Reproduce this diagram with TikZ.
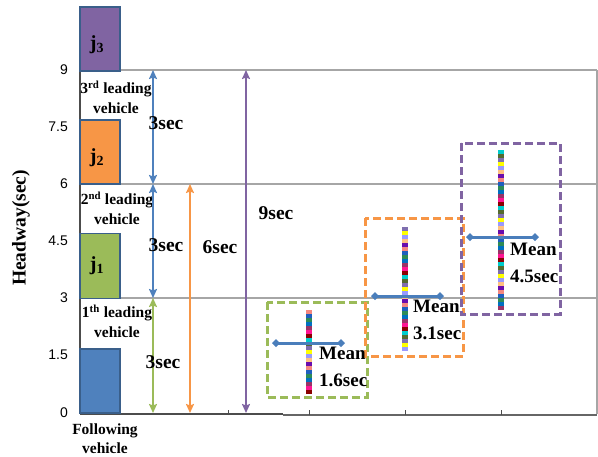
\documentclass[tikz,border=0pt]{standalone}
\usepackage{fontspec}
\setmainfont{Liberation Serif}
\newfontfamily\tickfont{Liberation Sans}
\usetikzlibrary{arrows.meta}
\definecolor{jpurple}{HTML}{8064A2}
\definecolor{jorange}{HTML}{F79646}
\definecolor{jgreen}{HTML}{9BBB59}
\definecolor{jblue}{HTML}{4F81BD}
\definecolor{jborder}{HTML}{3A5F8A}
\definecolor{meanblue}{HTML}{4A7EBB}
\definecolor{gridgray}{HTML}{A6A6A6}
\definecolor{sc0}{HTML}{F4877F}
\definecolor{sc1}{HTML}{0070C0}
\definecolor{sc2}{HTML}{8B0000}
\definecolor{sc3}{HTML}{7F6FAF}
\definecolor{sc4}{HTML}{FFC080}
\definecolor{sc5}{HTML}{1F5FBF}
\definecolor{sc6}{HTML}{993366}
\definecolor{sc7}{HTML}{00CCCC}
\definecolor{sc8}{HTML}{FFFF00}
\definecolor{sc9}{HTML}{6A0DAD}
\definecolor{sc10}{HTML}{2E8B57}
\definecolor{sc11}{HTML}{FF1493}
\definecolor{sc12}{HTML}{556B2F}
\definecolor{sc13}{HTML}{9999FF}
\newcommand\scatbar[4]{%
  \pgfmathtruncatemacro\nseg{(#3-#2)/4}%
  \foreach \k in {0,...,\nseg}{%
    \pgfmathtruncatemacro\m{mod(\k*5+#4,14)}%
    \pgfmathsetmacro\yy{#2+4*\k}%
    \fill[fill=sc\m] (#1-3,\yy) rectangle (#1+3,\yy+4);
  }%
}
\tikzset{
  gridline/.style={draw=gridgray, line width=1.3pt},
  vehbox/.style={draw=jborder, line width=1.6pt, minimum width=40pt, inner sep=0pt},
  vlabel/.style={font=\bfseries\fontsize{15.5}{20}\selectfont, align=center, inner sep=0pt},
  jlabel/.style={font=\bfseries\fontsize{20}{22}\selectfont, inner sep=0pt},
  ticklab/.style={font=\tickfont\fontsize{14}{16}\selectfont, anchor=east, inner sep=0pt},
  seclab/.style={font=\bfseries\fontsize{19.5}{22}\selectfont, inner sep=0pt},
  meanlab/.style={font=\bfseries\fontsize{19}{27}\selectfont, align=left, anchor=north west, inner sep=0pt},
  harrow/.style={line width=2.6pt, {Stealth[length=9pt,width=8pt,inset=1.5pt]}-{Stealth[length=9pt,width=8pt,inset=1.5pt]}},
  dbox/.style={line width=3pt, dash pattern=on 8pt off 4pt},
  meanbar/.style={draw=meanblue, line width=3pt, {Diamond[length=8pt,width=8pt]}-{Diamond[length=8pt,width=8pt]}},
}
\begin{document}
\begin{tikzpicture}[x=1pt,y=-1pt]
\useasboundingbox (0,0) rectangle (598,456);
% grid lines
\draw[gridline] (80,70) -- (597,70);
\draw[gridline] (80,184) -- (597,184);
\draw[gridline] (80,298) -- (597,298);
% frame
\draw[draw=gridgray, line width=1.6pt] (597,70) -- (597,414);
\draw[draw=gray!60!black, line width=1.3pt] (80,70) -- (80,414);
\draw[draw=gray!60!black, line width=1.3pt] (80,414) -- (283,414);
\draw[draw=gray!80!black, line width=1.3pt] (283,415) -- (597,415);
\foreach \tx in {228,309,405,501}{\draw[gray!60!black, line width=0.8pt] (\tx,415) -- (\tx,410);}
% tick labels
\node[ticklab] (t0) at (68,413) {0};
\node[ticklab] (t15) at (68,355) {1.5};
\node[ticklab] (t3) at (68,298) {3};
\node[ticklab] (t45) at (68,241) {4.5};
\node[ticklab] (t6) at (68,184) {6};
\node[ticklab] (t75) at (68,127) {7.5};
\node[ticklab] (t9) at (68,70) {9};
% axis title
\node[font=\bfseries\fontsize{19.5}{22}\selectfont, rotate=90, inner sep=0pt] (ytitle) at (21,228) {Headway(sec)};
% vehicle boxes
\node[vehbox, fill=jpurple, minimum height=64pt] (j3) at (100,39) {};
\node[vehbox, fill=jorange, minimum height=64pt] (j2) at (100,152) {};
\node[vehbox, fill=jgreen, minimum height=65pt] (j1) at (100,266) {};
\node[vehbox, fill=jblue, minimum height=64pt] (fv) at (100,381) {};
\node[jlabel] (lj3) at (97,45) {j\textsubscript{3}};
\node[jlabel] (lj2) at (97,158) {j\textsubscript{2}};
\node[jlabel] (lj1) at (97,266) {j\textsubscript{1}};
% vehicle labels
\node[vlabel] (v3) at (116,97) {3\textsuperscript{rd} leading\\vehicle};
\node[vlabel] (v2) at (117,208) {2\textsuperscript{nd} leading\\vehicle};
\node[vlabel] (v1) at (117,321) {1\textsuperscript{th} leading\\vehicle};
\node[vlabel, font=\bfseries\fontsize{15.5}{19}\selectfont] (v0) at (105,439) {Following\\vehicle};
% arrow end points
\coordinate (b9) at (153,70);
\coordinate (b6) at (153,184);
\coordinate (b3) at (153,298);
\coordinate (b0) at (153,413);
\coordinate (o6) at (190,184);
\coordinate (o0) at (190,413);
\coordinate (p9) at (246,70);
\coordinate (p0) at (246,413);
\draw[harrow, draw=jblue, fill=jblue] (b9) -- (b6);
\draw[harrow, draw=jblue, fill=jblue] (b6) -- (b3);
\draw[harrow, draw=jgreen, fill=jgreen] (b3) -- (b0);
\draw[harrow, draw=jorange, fill=jorange] (o6) -- (o0);
\draw[harrow, draw=jpurple, fill=jpurple] (p9) -- (p0);
\node[seclab] (s1) at (166,123) {3sec};
\node[seclab] (s2) at (166,245) {3sec};
\node[seclab] (s3) at (163,362) {3sec};
\node[seclab] (s6) at (220,247) {6sec};
\node[seclab] (s9) at (276,213) {9sec};
% scatter bars
\scatbar{309}{310}{390}{0}
\scatbar{405}{227}{349}{3}
\scatbar{501}{150}{309}{7}
% dashed boxes
\draw[dbox, draw=jgreen] (267,302) rectangle (367,397);
\draw[dbox, draw=jorange] (365,218) rectangle (463,356);
\draw[dbox, draw=jpurple] (461,143) rectangle (560,314);
% mean bars
\coordinate (g1) at (272,343); \coordinate (g2) at (345,343);
\coordinate (r1) at (371,296); \coordinate (r2) at (444,296);
\coordinate (q1) at (466,237); \coordinate (q2) at (539,237);
\draw[meanbar] (g1) -- (g2);
\draw[meanbar] (r1) -- (r2);
\draw[meanbar] (q1) -- (q2);
% mean labels
\node[meanlab] (m1) at (319,347) {Mean\\1.6sec};
\node[meanlab] (m2) at (413,300) {Mean\\3.1sec};
\node[meanlab] (m3) at (510,243) {Mean\\4.5sec};
\end{tikzpicture}
\end{document}
